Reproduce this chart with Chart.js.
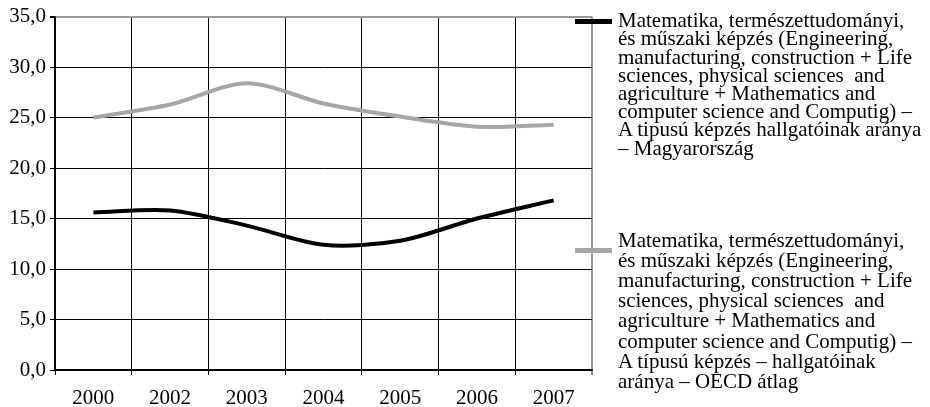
<!DOCTYPE html>
<html>
<head>
<meta charset="utf-8">
<script src="https://cdn.jsdelivr.net/npm/chart.js@4/dist/chart.umd.min.js"></script>
<style>
  html, body { margin: 0; padding: 0; background: #fff; }
  #wrap { position: relative; width: 930px; height: 407px; overflow: hidden; }
  #c { position: absolute; left: 0; top: 0; }
  .sw { position: absolute; height: 5px; }
  .lg { position: absolute; font-family: 'Liberation Serif', 'Times New Roman', serif; font-size: 21px; color: #000; white-space: pre; }
</style>
</head>
<body>
<div id="wrap">
  <canvas id="c" width="930" height="407"></canvas>
  <div class="sw" id="sw1"></div>
  <div class="lg" id="lg1"></div>
  <div class="sw" id="sw2"></div>
  <div class="lg" id="lg2"></div>
</div>
<script>
// ---- data ----
const years = ['2000', '2002', '2003', '2004', '2005', '2006', '2007'];
const hungary = [15.6, 15.8, 14.3, 12.4, 12.8, 15.0, 16.8];
const oecd = [25.0, 26.3, 28.4, 26.4, 25.1, 24.1, 24.3];
const yTicks = [0, 5, 10, 15, 20, 25, 30, 35];
const legendHU = [
  'Matematika, természettudományi,',
  'és műszaki képzés (Engineering,',
  'manufacturing, construction + Life',
  'sciences, physical sciences  and',
  'agriculture + Mathematics and',
  'computer science and Computig) –',
  'A tipusú képzés hallgatóinak aránya',
  '– Magyarország'
];
const legendOECD = [
  'Matematika, természettudományi,',
  'és műszaki képzés (Engineering,',
  'manufacturing, construction + Life',
  'sciences, physical sciences  and',
  'agriculture + Mathematics and',
  'computer science and Computig) –',
  'A típusú képzés – hallgatóinak',
  'aránya – OECD átlag'
];
const colorHU = '#000000';
const colorOECD = '#a6a6a6';

// ---- legend (HTML) ----
function setLegend(swId, lgId, lines, color, swTop, txtTop, lh) {
  const sw = document.getElementById(swId);
  sw.style.left = '575px'; sw.style.width = '37px';
  sw.style.top = (swTop - 2.5) + 'px';
  sw.style.background = color;
  const lg = document.getElementById(lgId);
  lg.style.left = '618px'; lg.style.top = txtTop + 'px';
  lg.style.lineHeight = lh + 'px';
  lg.textContent = lines.join('\n');
}
setLegend('sw1', 'lg1', legendHU, colorHU, 21, 11.1, 18.2);
setLegend('sw2', 'lg2', legendOECD, colorOECD, 250, 229.5, 20.2);

// ---- chart ----
const serif = "'Liberation Serif', 'Times New Roman', serif";
new Chart(document.getElementById('c'), {
  type: 'line',
  data: {
    labels: years,
    datasets: [
      { label: legendHU.join(' '), data: hungary, borderColor: colorHU, borderWidth: 4, pointRadius: 0, tension: 0.3, fill: false },
      { label: legendOECD.join(' '), data: oecd, borderColor: colorOECD, borderWidth: 4, pointRadius: 0, tension: 0.3, fill: false }
    ]
  },
  options: {
    responsive: false,
    animation: false,
    events: [],
    layout: { padding: { top: 12, right: 338, left: 0, bottom: 0 } },
    plugins: { legend: { display: false }, tooltip: { enabled: false } },
    scales: {
      x: {
        offset: true,
        grid: {
          offset: true,
          color: ctx => ctx.type === 'tick' ? '#000' : '#999',
          lineWidth: ctx => ctx.type === 'tick' ? 1 : 2,
          tickColor: '#000',
          tickWidth: 1,
          tickLength: 5
        },
        border: { color: '#000', width: 1.5 },
        ticks: { color: '#000', font: { family: serif, size: 21 }, padding: 11, maxRotation: 0, autoSkip: false },
        afterFit: s => { s.height = 37; }
      },
      y: {
        min: 0, max: 35,
        afterBuildTicks: s => { s.ticks = yTicks.map(v => ({ value: v })); },
        grid: {
          color: ctx => (ctx.tick && ctx.tick.value === 35) ? '#999' : '#000',
          lineWidth: ctx => (ctx.tick && ctx.tick.value === 35) ? 2 : 1,
          tickColor: '#000',
          tickLength: 5
        },
        border: { color: '#000', width: 1.5 },
        ticks: {
          color: '#000', font: { family: serif, size: 21 }, padding: 4,
          callback: v => v.toFixed(1).replace('.', ',')
        },
        afterFit: s => { s.width = 55; }
      }
    }
  }
});
</script>
</body>
</html>
